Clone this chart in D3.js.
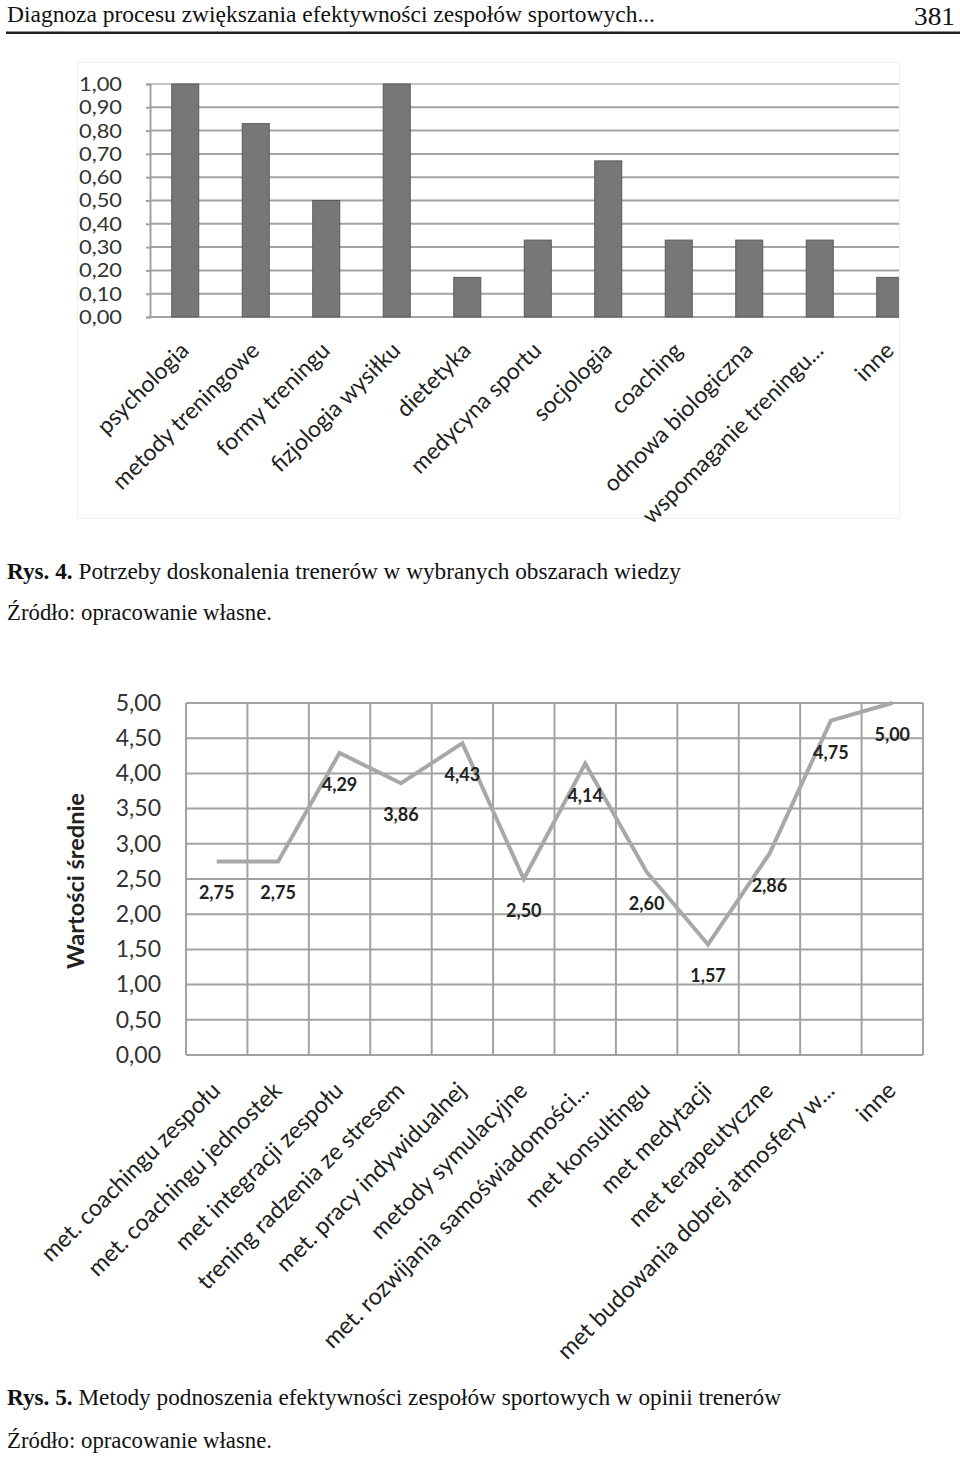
<!DOCTYPE html>
<html>
<head>
<meta charset="utf-8">
<script src="https://cdn.jsdelivr.net/npm/d3@7"></script>
<style>
  body { margin: 0; background: #fff; }
  svg { display: block; }
</style>
</head>
<body>
<div id="page"></div>
<script>
// Rys. 4 - bar chart
var areas = ["psychologia", "metody treningowe", "formy treningu", "fizjologia wysiłku", "dietetyka",
  "medycyna sportu", "socjologia", "coaching", "odnowa biologiczna", "wspomaganie treningu...", "inne"];
var areaValues = [1.00, 0.83, 0.50, 1.00, 0.17, 0.33, 0.67, 0.33, 0.33, 0.33, 0.17];
var barTicks = [0, 0.1, 0.2, 0.3, 0.4, 0.5, 0.6, 0.7, 0.8, 0.9, 1.0];

// Rys. 5 - line chart
var methods = ["met. coachingu zespołu", "met. coachingu jednostek", "met integracji zespołu",
  "trening radzenia ze stresem", "met. pracy indywidualnej", "metody symulacyjne",
  "met. rozwijania samoświadomości...", "met konsultingu", "met medytacji", "met terapeutyczne",
  "met budowania dobrej atmosfery w...", "inne"];
var methodValues = [2.75, 2.75, 4.29, 3.86, 4.43, 2.50, 4.14, 2.60, 1.57, 2.86, 4.75, 5.00];
var lineTicks = [0, 0.5, 1, 1.5, 2, 2.5, 3, 3.5, 4, 4.5, 5];

var W = 960, H = 1457;
var fmt = function (v) { return v.toFixed(2).replace(".", ","); };
var chartFont = "Lato, 'Open Sans', sans-serif";
var serif = "'Liberation Serif', 'Times New Roman', serif";

var svg = d3.select("#page").append("svg")
  .attr("width", W)
  .attr("height", H);

//page header
svg.append("text")
  .attr("x", 7).attr("y", 22)
  .attr("textLength", 648).attr("lengthAdjust", "spacingAndGlyphs")
  .style("font-family", serif).style("font-size", "23px").style("fill", "#111")
  .text("Diagnoza procesu zwiększania efektywności zespołów sportowych...");
svg.append("text")
  .attr("x", 955).attr("y", 25)
  .attr("text-anchor", "end")
  .attr("textLength", 41).attr("lengthAdjust", "spacingAndGlyphs")
  .style("font-family", serif).style("font-size", "26px").style("fill", "#111")
  .text("381");
svg.append("rect")
  .attr("x", 6).attr("y", 31.5).attr("width", 954).attr("height", 2.5)
  .style("fill", "#222");

//----- bar chart -----
var bar = { left: 150, top: 84, bottom: 317, clipRight: 899 };

svg.append("rect")
  .attr("x", 77.5).attr("y", 62.5).attr("width", 822).attr("height", 456)
  .style("fill", "none").style("stroke", "#efefef");

var xb = d3.scaleBand()
  .domain(areas)
  .range([bar.left, bar.left + 11 * 70.5])
  .paddingInner(0.617)
  .paddingOuter(0.3085);
var yb = d3.scaleLinear().domain([0, 1]).range([bar.bottom, bar.top]);

svg.append("clipPath").attr("id", "barclip")
  .append("rect")
  .attr("x", bar.left).attr("y", bar.top - 5)
  .attr("width", bar.clipRight - bar.left).attr("height", bar.bottom - bar.top + 10);

var gBar = svg.append("g").attr("clip-path", "url(#barclip)");

gBar.selectAll(".hgrid")
  .data(barTicks)
  .enter()
  .append("line")
  .attr("x1", bar.left).attr("x2", bar.clipRight)
  .attr("y1", function (d) { return yb(d); })
  .attr("y2", function (d) { return yb(d); })
  .style("stroke", function (d) { return d === 1 ? "#c4c4c4" : "#a2a2a2"; })
  .style("stroke-width", 2);

gBar.selectAll(".bar")
  .data(areaValues)
  .enter()
  .append("rect")
  .attr("x", function (d, i) { return xb(areas[i]); })
  .attr("y", function (d) { return yb(d); })
  .attr("width", xb.bandwidth())
  .attr("height", function (d) { return yb(0) - yb(d); })
  .style("fill", "#777")
  .style("stroke", "#5a5a5a")
  .style("stroke-width", 1);

var axB = svg.append("g")
  .attr("transform", "translate(" + bar.left + ",0)")
  .call(d3.axisLeft(yb).tickValues(barTicks).tickSize(4).tickPadding(24).tickFormat(fmt));
axB.select(".domain").style("stroke", "#a2a2a2").style("stroke-width", 2);
axB.selectAll(".tick line").style("stroke", "#a2a2a2").style("stroke-width", 2);
axB.selectAll("text")
  .attr("textLength", 43).attr("lengthAdjust", "spacingAndGlyphs")
  .style("font-family", chartFont).style("font-size", "20px").style("fill", "#333");

svg.selectAll(".barlabel")
  .data(areas)
  .enter()
  .append("text")
  .attr("transform", function (d) {
    return "translate(" + (xb(d) + xb.bandwidth() / 2 + 5) + ",352) rotate(-45)";
  })
  .attr("text-anchor", "end")
  .style("font-family", chartFont).style("font-size", "23px").style("fill", "#222")
  .text(function (d) { return d; });

//captions for Rys. 4
function caption(y, bold, rest, len) {
  var t = svg.append("text")
    .attr("x", 7).attr("y", y)
    .attr("textLength", len).attr("lengthAdjust", "spacingAndGlyphs")
    .style("font-family", serif).style("font-size", "23px").style("fill", "#111");
  if (bold) t.append("tspan").style("font-weight", "bold").text(bold + " ");
  t.append("tspan").text(rest);
}
caption(579, "Rys. 4.", "Potrzeby doskonalenia trenerów w wybranych obszarach wiedzy", 674);
caption(620, null, "Źródło: opracowanie własne.", 265);

//----- line chart -----
var ln = { left: 186, right: 923, top: 703, bottom: 1055 };
var xl = d3.scaleBand().domain(methods).range([ln.left, ln.right]);
var yl = d3.scaleLinear().domain([0, 5]).range([ln.bottom, ln.top]);
var cx = function (i) { return xl(methods[i]) + xl.bandwidth() / 2; };

svg.selectAll(".lhgrid")
  .data(lineTicks)
  .enter()
  .append("line")
  .attr("x1", ln.left).attr("x2", ln.right)
  .attr("y1", function (d) { return yl(d); })
  .attr("y2", function (d) { return yl(d); })
  .style("stroke", "#a2a2a2").style("stroke-width", 2);

svg.selectAll(".lvgrid")
  .data(methods.concat(["_end"]))
  .enter()
  .append("line")
  .attr("x1", function (d, i) { return ln.left + i * xl.step(); })
  .attr("x2", function (d, i) { return ln.left + i * xl.step(); })
  .attr("y1", ln.top).attr("y2", ln.bottom)
  .style("stroke", "#a2a2a2").style("stroke-width", 2);

var axL = svg.append("g")
  .attr("transform", "translate(" + ln.left + ",0)")
  .call(d3.axisLeft(yl).tickValues(lineTicks).tickSize(0).tickPadding(25).tickFormat(fmt));
axL.select(".domain").remove();
axL.selectAll("text")
  .style("font-family", chartFont).style("font-size", "23px").style("fill", "#333");

svg.append("text")
  .attr("transform", "translate(84,881) rotate(-90)")
  .attr("text-anchor", "middle")
  .style("font-family", chartFont).style("font-size", "23.5px").style("font-weight", "bold").style("fill", "#222")
  .text("Wartości średnie");

var line = d3.line()
  .x(function (d, i) { return cx(i); })
  .y(function (d) { return yl(d); });

svg.append("path")
  .datum(methodValues)
  .attr("d", line)
  .style("fill", "none")
  .style("stroke", "#a8a8a8")
  .style("stroke-width", 4);

svg.selectAll(".vlabel")
  .data(methodValues)
  .enter()
  .append("text")
  .attr("x", function (d, i) { return cx(i); })
  .attr("y", function (d) { return yl(d) + 38; })
  .attr("text-anchor", "middle")
  .style("font-family", chartFont).style("font-size", "18px").style("font-weight", "bold").style("fill", "#222")
  .text(fmt);

svg.selectAll(".linelabel")
  .data(methods)
  .enter()
  .append("text")
  .attr("transform", function (d, i) {
    return "translate(" + (cx(i) + 5) + ",1092) rotate(-45)";
  })
  .attr("text-anchor", "end")
  .style("font-family", chartFont).style("font-size", "23.5px").style("fill", "#222")
  .text(function (d) { return d; });

//captions for Rys. 5
caption(1405, "Rys. 5.", "Metody podnoszenia efektywności zespołów sportowych w opinii trenerów", 774);
caption(1448, null, "Źródło: opracowanie własne.", 265);
</script>
</body>
</html>
